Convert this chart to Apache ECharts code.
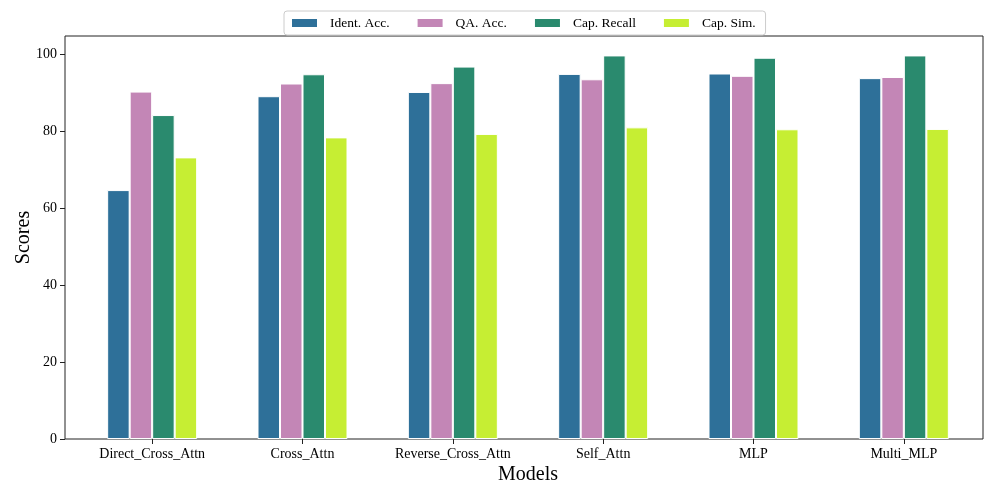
<!DOCTYPE html>
<html>
<head>
<meta charset="utf-8">
<script src="https://cdn.jsdelivr.net/npm/echarts@6/dist/echarts.min.js"></script>
<style>html,body{margin:0;padding:0;background:#fff;}#c{width:996px;height:498px;}</style>
</head>
<body>
<div id="c"></div>
<script>
const categories = ['Direct_Cross_Attn', 'Cross_Attn', 'Reverse_Cross_Attn', 'Self_Attn', 'MLP', 'Multi_MLP'];
const seriesNames = ['Ident. Acc.', 'QA. Acc.', 'Cap. Recall', 'Cap. Sim.'];
const identAcc = [64.7, 89.1, 90.2, 94.9, 95.0, 93.8];
const qaAcc = [90.3, 92.4, 92.5, 93.5, 94.4, 94.1];
const capRecall = [84.2, 94.8, 96.8, 99.7, 99.1, 99.7];
const capSim = [73.2, 78.4, 79.3, 81.0, 80.5, 80.6];
const yTicks = [0, 20, 40, 60, 80, 100];
const colors = ['#2E7099', '#C386B6', '#2A8A6E', '#C6EE33'];

const FONT = '"Liberation Serif", "DejaVu Serif", serif';
const chart = echarts.init(document.getElementById('c'), null, {renderer: 'canvas'});
const allData = [identAcc, qaAcc, capRecall, capSim];
const yMax = 104.75;

chart.setOption({
  animation: false,
  backgroundColor: '#fff',
  textStyle: {fontFamily: FONT},
  legend: {
    left: 284, top: 11,
    padding: [5, 10, 5, 6],
    itemGap: 26,
    itemWidth: 27, itemHeight: 10,
    borderColor: '#ccc', borderWidth: 1, borderRadius: 3,
    icon: 'rect',
    textStyle: {fontFamily: FONT, fontSize: 13.5, color: '#000', padding: [0, 0, 0, 7]},
    data: seriesNames
  },
  grid: [
    {left: 65, right: 13, top: 36, bottom: 59, show: true, borderColor: '#222', borderWidth: 1, backgroundColor: 'transparent', containLabel: false},
    {left: 77, right: 17, top: 36, bottom: 59, containLabel: false}
  ],
  xAxis: [
    {type: 'category', gridIndex: 0, data: categories, show: false},
    {
      type: 'category', gridIndex: 1, data: categories,
      name: 'Models', nameLocation: 'middle', nameGap: 26, nameMoveOverlap: false,
      nameTextStyle: {fontFamily: FONT, fontSize: 20, color: '#000'},
      axisLine: {show: false},
      axisTick: {show: true, alignWithLabel: true, length: 5, lineStyle: {color: '#222'}},
      axisLabel: {fontFamily: FONT, fontSize: 14, color: '#000', margin: 8, interval: 0, hideOverlap: false},
      splitLine: {show: false}
    }
  ],
  yAxis: [
    {
      type: 'value', gridIndex: 0, min: 0, max: yMax,
      name: 'Scores', nameLocation: 'middle', nameGap: 31, nameMoveOverlap: false,
      nameTextStyle: {fontFamily: FONT, fontSize: 20, color: '#000'},
      axisLine: {show: false},
      axisTick: {show: true, length: 5, lineStyle: {color: '#222'}, customValues: yTicks},
      axisLabel: {fontFamily: FONT, fontSize: 14, color: '#000', margin: 8, customValues: yTicks},
      splitLine: {show: false}
    },
    {type: 'value', gridIndex: 1, min: 0, max: yMax, show: false, splitLine: {show: false}}
  ],
  series: seriesNames.map((n, i) => ({
    name: n, type: 'bar', xAxisIndex: 1, yAxisIndex: 1,
    data: allData[i],
    barWidth: 22.5, barGap: '0%',
    itemStyle: {color: colors[i], borderColor: '#fff', borderWidth: 1}
  }))
});
</script>
</body>
</html>
